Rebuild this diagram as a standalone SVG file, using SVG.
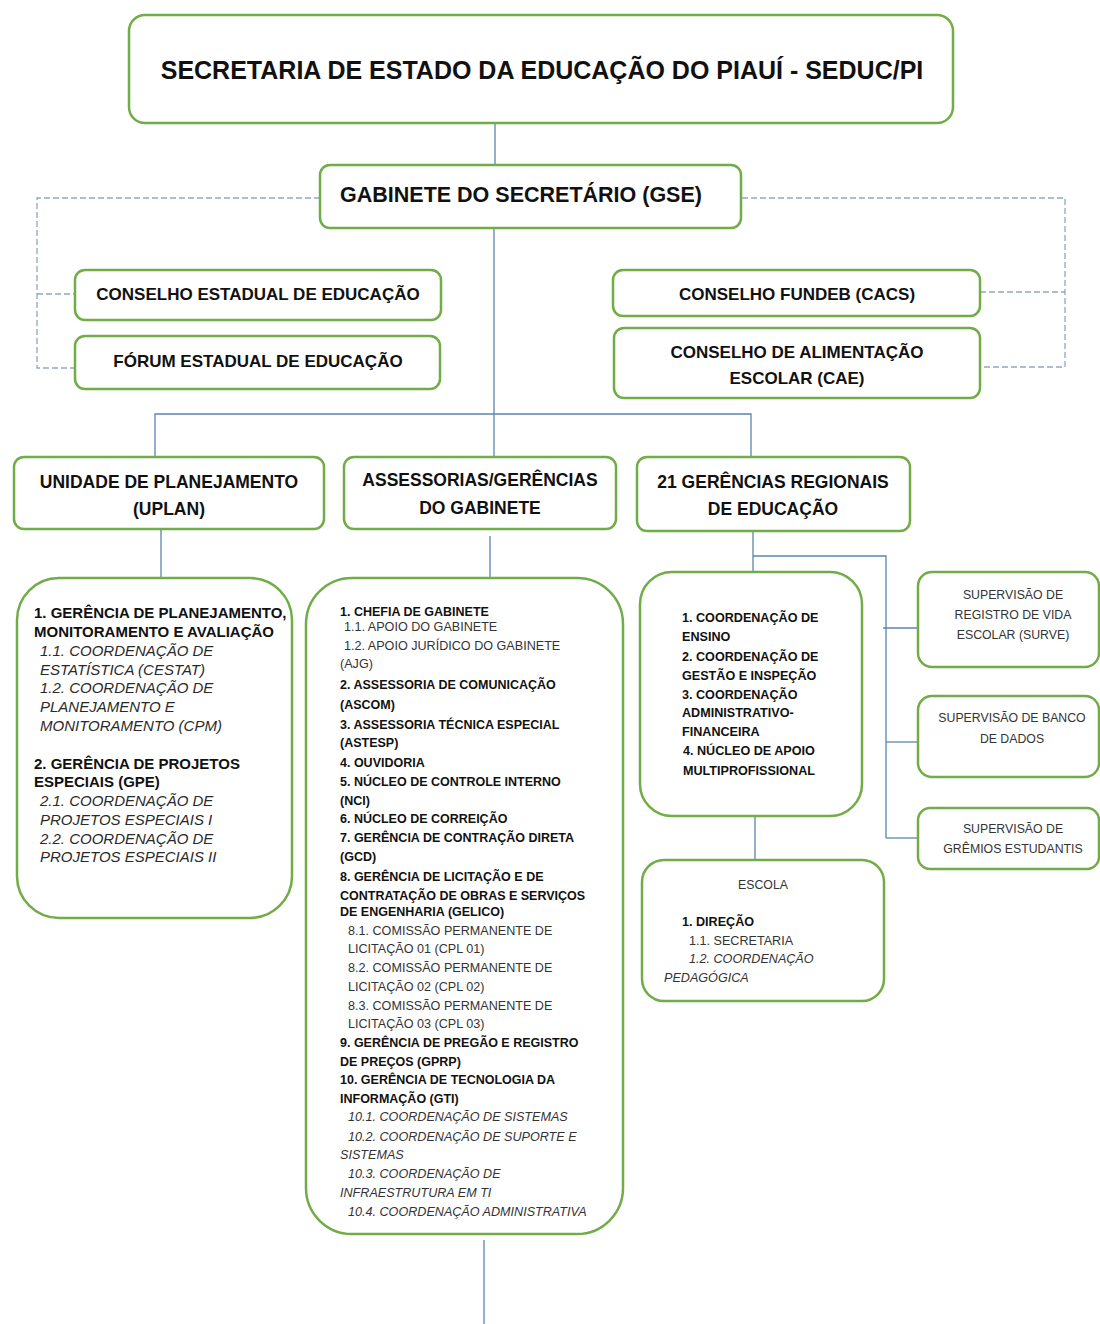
<svg xmlns="http://www.w3.org/2000/svg" width="1100" height="1324" viewBox="0 0 1100 1324">
<style>
.box{fill:#fff;stroke:#70AD47;stroke-width:2.5}
.ln{fill:none;stroke:#5A86B0;stroke-width:1.3}
.dash{fill:none;stroke:#8FA8C2;stroke-width:1.3;stroke-dasharray:6 3}
text{font-family:"Liberation Sans",Arial,sans-serif;fill:#111}
.t1{font-size:25px;font-weight:bold}
.t2{font-size:21.5px;font-weight:bold}
.t3{font-size:17px;font-weight:bold}
.t4{font-size:17.5px;font-weight:bold}
.lb{font-size:15px;font-weight:bold}
.li{font-size:15px;font-style:italic;fill:#2a2a2a}
.cb{font-size:12.5px;font-weight:bold}
.cn{font-size:12.6px;fill:#333}
.ci{font-size:12.6px;font-style:italic;fill:#333}
.gb{font-size:12.6px;font-weight:bold}
.sv{font-size:12.3px;fill:#333}
.mid{text-anchor:middle}
</style>
<g id="connectors">
<line class="ln" x1="495" y1="123" x2="495" y2="165"/>
<line class="ln" x1="494" y1="228" x2="494" y2="457"/>
<polyline class="ln" points="155,457 155,414 751,414 751,457"/>
<line class="ln" x1="161" y1="529" x2="161" y2="578"/>
<line class="ln" x1="490" y1="536" x2="490" y2="578"/>
<line class="ln" x1="753" y1="531" x2="753" y2="572"/>
<polyline class="ln" points="753,556 886,556 886,838"/>
<line class="ln" x1="883" y1="628" x2="918" y2="628"/>
<line class="ln" x1="886" y1="742" x2="918" y2="742"/>
<line class="ln" x1="886" y1="838" x2="918" y2="838"/>
<line class="ln" x1="755" y1="816" x2="755" y2="860"/>
<line class="ln" x1="484" y1="1240" x2="484" y2="1324"/>
<polyline class="dash" points="320,198 37,198 37,368 75,368"/>
<line class="dash" x1="37" y1="294" x2="75" y2="294"/>
<polyline class="dash" points="742,198 1065,198 1065,367 980,367"/>
<line class="dash" x1="980" y1="292" x2="1065" y2="292"/>
</g>
<g id="seduc">
<rect class="box" x="129" y="15" width="824" height="108" rx="16"/>
<text class="t1 mid" x="542" y="79">SECRETARIA DE ESTADO DA EDUCAÇÃO DO PIAUÍ - SEDUC/PI</text>
</g>
<g id="gse">
<rect class="box" x="320" y="165" width="421" height="63" rx="10"/>
<text class="t2 mid" x="521" y="202">GABINETE DO SECRETÁRIO (GSE)</text>
</g>
<g id="cee">
<rect class="box" x="75" y="270" width="366" height="50" rx="10"/>
<text class="t3 mid" x="258" y="300">CONSELHO ESTADUAL DE EDUCAÇÃO</text>
</g>
<g id="fee">
<rect class="box" x="75" y="336" width="365" height="53" rx="10"/>
<text class="t3 mid" x="258" y="367">FÓRUM ESTADUAL DE EDUCAÇÃO</text>
</g>
<g id="fundeb">
<rect class="box" x="613" y="270" width="367" height="46" rx="10"/>
<text class="t3 mid" x="797" y="300">CONSELHO FUNDEB (CACS)</text>
</g>
<g id="cae">
<rect class="box" x="614" y="328" width="366" height="70" rx="10"/>
<text class="t3 mid" x="797" y="358">CONSELHO DE ALIMENTAÇÃO</text>
<text class="t3 mid" x="797" y="384">ESCOLAR (CAE)</text>
</g>
<g id="uplan">
<rect class="box" x="14" y="457" width="310" height="72" rx="10"/>
<text class="t4 mid" x="169" y="488">UNIDADE DE PLANEJAMENTO</text>
<text class="t4 mid" x="169" y="515">(UPLAN)</text>
</g>
<g id="assessorias">
<rect class="box" x="344" y="457" width="272" height="72" rx="10"/>
<text class="t4 mid" x="480" y="486">ASSESSORIAS/GERÊNCIAS</text>
<text class="t4 mid" x="480" y="514">DO GABINETE</text>
</g>
<g id="gre">
<rect class="box" x="637" y="457" width="273" height="74" rx="10"/>
<text class="t4 mid" x="773" y="488">21 GERÊNCIAS REGIONAIS</text>
<text class="t4 mid" x="773" y="515">DE EDUCAÇÃO</text>
</g>
<g id="uplan-detail">
<rect class="box" x="17" y="578" width="275" height="340" rx="42"/>
<text class="lb" x="34" y="618">1. GERÊNCIA DE PLANEJAMENTO,</text>
<text class="lb" x="34" y="637">MONITORAMENTO E AVALIAÇÃO</text>
<text class="li" x="40" y="656">1.1. COORDENAÇÃO DE</text>
<text class="li" x="40" y="675">ESTATÍSTICA (CESTAT)</text>
<text class="li" x="40" y="693">1.2. COORDENAÇÃO DE</text>
<text class="li" x="40" y="712">PLANEJAMENTO E</text>
<text class="li" x="40" y="731">MONITORAMENTO (CPM)</text>
<text class="lb" x="34" y="769">2. GERÊNCIA DE PROJETOS</text>
<text class="lb" x="34" y="787">ESPECIAIS (GPE)</text>
<text class="li" x="40" y="806">2.1. COORDENAÇÃO DE</text>
<text class="li" x="40" y="825">PROJETOS ESPECIAIS I</text>
<text class="li" x="40" y="844">2.2. COORDENAÇÃO DE</text>
<text class="li" x="40" y="862">PROJETOS ESPECIAIS II</text>
</g>
<g id="assessorias-detail">
<rect class="box" x="306" y="578" width="317" height="656" rx="46"/>
<text class="cb" x="340" y="616">1. CHEFIA DE GABINETE</text>
<text class="cn" x="344" y="631">1.1. APOIO DO GABINETE</text>
<text class="cn" x="344" y="650">1.2. APOIO JURÍDICO DO GABINETE</text>
<text class="cn" x="340" y="668">(AJG)</text>
<text class="cb" x="340" y="689">2. ASSESSORIA DE COMUNICAÇÃO</text>
<text class="cb" x="340" y="709">(ASCOM)</text>
<text class="cb" x="340" y="729">3. ASSESSORIA TÉCNICA ESPECIAL</text>
<text class="cb" x="340" y="747">(ASTESP)</text>
<text class="cb" x="340" y="767">4. OUVIDORIA</text>
<text class="cb" x="340" y="786">5. NÚCLEO DE CONTROLE INTERNO</text>
<text class="cb" x="340" y="805">(NCI)</text>
<text class="cb" x="340" y="823">6. NÚCLEO DE CORREIÇÃO</text>
<text class="cb" x="340" y="842">7. GERÊNCIA DE CONTRAÇÃO DIRETA</text>
<text class="cb" x="340" y="861">(GCD)</text>
<text class="cb" x="340" y="881">8. GERÊNCIA DE LICITAÇÃO E DE</text>
<text class="cb" x="340" y="900">CONTRATAÇÃO DE OBRAS E SERVIÇOS</text>
<text class="cb" x="340" y="916">DE ENGENHARIA (GELICO)</text>
<text class="cn" x="348" y="935">8.1. COMISSÃO PERMANENTE DE</text>
<text class="cn" x="348" y="953">LICITAÇÃO 01 (CPL 01)</text>
<text class="cn" x="348" y="972">8.2. COMISSÃO PERMANENTE DE</text>
<text class="cn" x="348" y="991">LICITAÇÃO 02 (CPL 02)</text>
<text class="cn" x="348" y="1010">8.3. COMISSÃO PERMANENTE DE</text>
<text class="cn" x="348" y="1028">LICITAÇÃO 03 (CPL 03)</text>
<text class="cb" x="340" y="1047">9. GERÊNCIA DE PREGÃO E REGISTRO</text>
<text class="cb" x="340" y="1066">DE PREÇOS (GPRP)</text>
<text class="cb" x="340" y="1084">10. GERÊNCIA DE TECNOLOGIA DA</text>
<text class="cb" x="340" y="1103">INFORMAÇÃO (GTI)</text>
<text class="ci" x="348" y="1121">10.1. COORDENAÇÃO DE SISTEMAS</text>
<text class="ci" x="348" y="1141">10.2. COORDENAÇÃO DE SUPORTE E</text>
<text class="ci" x="340" y="1159">SISTEMAS</text>
<text class="ci" x="348" y="1178">10.3. COORDENAÇÃO DE</text>
<text class="ci" x="340" y="1197">INFRAESTRUTURA EM TI</text>
<text class="ci" x="348" y="1216">10.4. COORDENAÇÃO ADMINISTRATIVA</text>
</g>
<g id="gre-detail">
<rect class="box" x="640" y="572" width="222" height="244" rx="32"/>
<text class="gb" x="682" y="622">1. COORDENAÇÃO DE</text>
<text class="gb" x="682" y="641">ENSINO</text>
<text class="gb" x="682" y="661">2. COORDENAÇÃO DE</text>
<text class="gb" x="682" y="680">GESTÃO E INSPEÇÃO</text>
<text class="gb" x="682" y="699">3. COORDENAÇÃO</text>
<text class="gb" x="682" y="717">ADMINISTRATIVO-</text>
<text class="gb" x="682" y="736">FINANCEIRA</text>
<text class="gb" x="683" y="755">4. NÚCLEO DE APOIO</text>
<text class="gb" x="683" y="775">MULTIPROFISSIONAL</text>
</g>
<g id="surve">
<rect class="box" x="918" y="572" width="181" height="95" rx="14"/>
<text class="sv mid" x="1013" y="599">SUPERVISÃO DE</text>
<text class="sv mid" x="1013" y="619">REGISTRO DE VIDA</text>
<text class="sv mid" x="1013" y="639">ESCOLAR (SURVE)</text>
</g>
<g id="banco">
<rect class="box" x="918" y="696" width="181" height="81" rx="14"/>
<text class="sv mid" x="1012" y="722">SUPERVISÃO DE BANCO</text>
<text class="sv mid" x="1012" y="743">DE DADOS</text>
</g>
<g id="gremios">
<rect class="box" x="918" y="808" width="181" height="61" rx="12"/>
<text class="sv mid" x="1013" y="833">SUPERVISÃO DE</text>
<text class="sv mid" x="1013" y="853">GRÊMIOS ESTUDANTIS</text>
</g>
<g id="escola">
<rect class="box" x="642" y="860" width="242" height="141" rx="22"/>
<text class="sv mid" x="763" y="889">ESCOLA</text>
<text class="gb" x="682" y="926">1. DIREÇÃO</text>
<text class="cn" x="689" y="945">1.1. SECRETARIA</text>
<text class="ci" x="689" y="963">1.2. COORDENAÇÃO</text>
<text class="ci" x="664" y="982">PEDAGÓGICA</text>
</g>
</svg>
